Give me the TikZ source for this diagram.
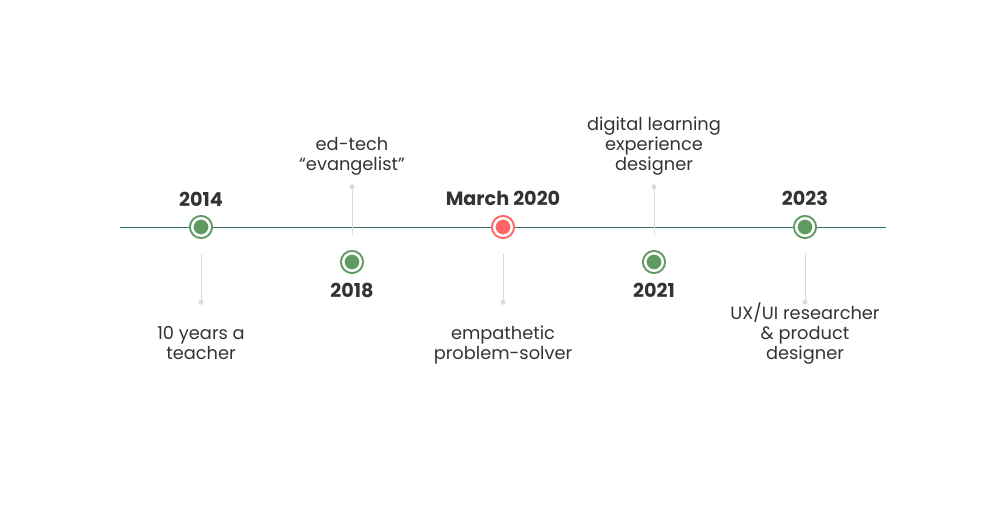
\documentclass[tikz,border=0pt]{standalone}
\usepackage{fontspec}
\setmainfont{Poppins}
\usetikzlibrary{positioning}
\definecolor{lineTeal}{HTML}{2F7070}
\definecolor{mileGreen}{HTML}{5E9A62}
\definecolor{mileRed}{HTML}{FF6464}
\definecolor{stemGrey}{HTML}{DADADA}
\definecolor{textGrey}{HTML}{333333}

\begin{document}
\begin{tikzpicture}[x=1pt, y=-1pt,
    mile/.style={circle, fill=#1, draw=#1, double=white, line width=2pt, double distance=2.5pt, minimum size=17.5pt, inner sep=0pt, outer sep=0pt},
    enddot/.style={circle, fill=stemGrey, minimum size=5pt, inner sep=0pt, outer sep=0pt},
    year/.style={text=textGrey, font=\fontsize{19.2}{22}\selectfont\bfseries, inner sep=0pt},
    desc/.style={text=textGrey, align=center, font=\fontsize{17.8}{20}\selectfont, inner sep=0pt, text depth=5pt},
    stem/.style={draw=stemGrey, line width=1pt},
    axis/.style={draw=lineTeal, line width=0.9pt}
]
\useasboundingbox (0,0) rectangle (1006,525);
% Axis
\coordinate (start) at (120,227);
\coordinate (end) at (886,227);
\draw[axis] (start) -- (end);
% Milestones
\node[mile=mileGreen] (d14) at (201,227) {};
\node[mile=mileGreen] (d18) at (352,262) {};
\node[mile=mileRed] (d20) at (503,227) {};
\node[mile=mileGreen] (d21) at (654,262) {};
\node[mile=mileGreen] (d23) at (805,227) {};
% Years
\node[year, above=12pt of d14] (y14) {2014};
\node[year, below=12.5pt of d18] (y18) {2018};
\node[year, above=12pt of d20] (y20) {March 2020};
\node[year, below=12.5pt of d21] (y21) {2021};
\node[year, above=12pt of d23] (y23) {2023};
% Stems
\coordinate[below=18pt of d14] (s14);
\coordinate[above=18pt of d18] (s18);
\coordinate[below=18pt of d20] (s20);
\coordinate[above=18pt of d21] (s21);
\coordinate[below=18pt of d23] (s23);
\node[enddot, below=46pt of s14] (p14) {};
\node[enddot, above=46pt of s18] (p18) {};
\node[enddot, below=46pt of s20] (p20) {};
\node[enddot, above=46pt of s21] (p21) {};
\node[enddot, below=46pt of s23] (p23) {};
\draw[stem] (s14) -- (p14);
\draw[stem] (s18) -- (p18);
\draw[stem] (s20) -- (p20);
\draw[stem] (s21) -- (p21);
\draw[stem] (s23) -- (p23);
% Descriptions
\node[desc, below=59.5pt of p14, anchor=south] (t14) {10 years a\\teacher};
\node[desc, above=8.5pt of p18] (t18) {ed-tech\\“evangelist”};
\node[desc, below=59.5pt of p20, anchor=south] (t20) {empathetic\\problem-solver};
\node[desc, above=8.5pt of p21] (t21) {digital learning\\experience\\designer};
\node[desc, below=59.5pt of p23, anchor=south] (t23) {UX/UI researcher\\\& product\\designer};
\end{tikzpicture}
\end{document}
